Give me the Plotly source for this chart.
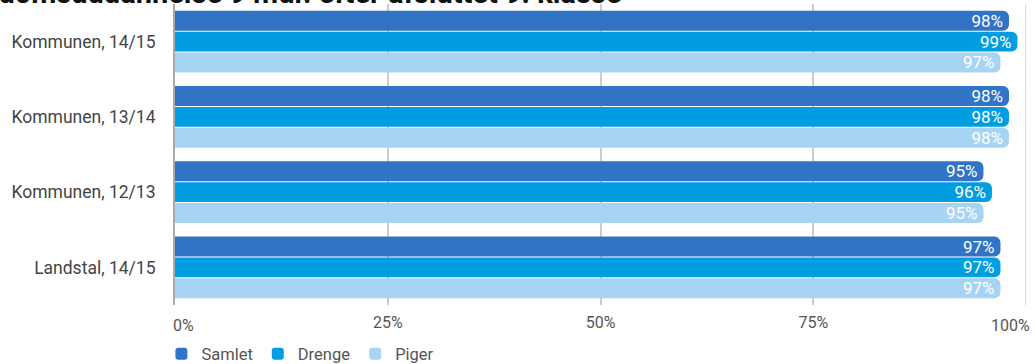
import plotly.graph_objects as go

categories = ["Kommunen, 14/15", "Kommunen, 13/14", "Kommunen, 12/13", "Landstal, 14/15"]
samlet = [98, 98, 95, 97]
drenge = [99, 98, 96, 97]
piger = [97, 98, 95, 97]
tick_vals = [0, 25, 50, 75, 100]
tick_text = ["0%", "25%", "50%", "75%", "100%"]
title_text = "Andel i gang med ungdomsuddannelse 9 mdr. efter afsluttet 9. klasse"

COLORS = {
    "Samlet": "#3174C6",
    "Drenge": "#009EE0",
    "Piger": "#A8D4F4",
}
FONT = "Roboto, Arial, sans-serif"

fig = go.Figure()
for name, vals in [("Samlet", samlet), ("Drenge", drenge), ("Piger", piger)]:
    fig.add_trace(go.Bar(
        name=name,
        y=categories,
        x=vals,
        orientation="h",
        marker=dict(color=COLORS[name], cornerradius=6, line=dict(width=0)),
        text=[f"{v}%" for v in vals],
        textposition="inside",
        insidetextanchor="end",
        textfont=dict(family=FONT, size=17, color="white"),
        cliponaxis=False,
    ))

fig.update_layout(
    width=1035,
    height=364,
    barmode="group",
    bargap=0.17,
    bargroupgap=0.04,
    font=dict(family=FONT, size=16, color="#444444"),
    paper_bgcolor="white",
    plot_bgcolor="white",
    margin=dict(l=175, r=9, t=4, b=59, autoexpand=False),
    uniformtext=dict(mode="show", minsize=17),
    legend=dict(
        orientation="h", x=-0.016, xanchor="left",
        yref="container", y=10 / 364, yanchor="middle",
        font=dict(size=16.5, color="#555555"), itemwidth=30,
        traceorder="normal",
    ),
    xaxis=dict(
        range=[0, 100],
        tickvals=tick_vals[1:-1],
        ticktext=tick_text[1:-1],
        showgrid=True,
        gridcolor="#cccccc",
        gridwidth=1.5,
        zeroline=False,
        automargin=False,
        ticklabelstandoff=6,
        tickfont=dict(size=16, color="#555555"),
        fixedrange=True,
    ),
    yaxis=dict(
        autorange="reversed",
        showline=True,
        linecolor="#aaaaaa",
        linewidth=2,
        ticks="",
        automargin=False,
        ticklabelstandoff=14,
        tickfont=dict(size=17.5, color="#444444"),
        fixedrange=True,
    ),
)

# end tick labels kept inside the chart width
fig.add_annotation(x=0, y=0, xref="x", yref="paper", text=tick_text[0],
                   showarrow=False, xanchor="left", yanchor="top", yshift=-9, xshift=-4,
                   font=dict(size=16, color="#555555"))
fig.add_annotation(x=100, y=0, xref="x", yref="paper", text=tick_text[-1],
                   showarrow=False, xanchor="right", yanchor="top", yshift=-9, xshift=6,
                   font=dict(size=16, color="#555555"))

# title, clipped at the top edge as in the source
fig.add_annotation(x=0.526, y=1, xref="paper", yref="paper", text=f"<b>{title_text}</b>",
                   showarrow=False, xanchor="right", yanchor="bottom", yshift=-8,
                   font=dict(size=29, color="#111111"))

fig.add_shape(type="line", x0=100, x1=100, y0=0, y1=1, xref="x", yref="paper",
              line=dict(color="#cccccc", width=1.5), layer="below")

fig.write_html("out.html", config={"displayModeBar": False},
               post_script="document.body.style.margin='0';")
